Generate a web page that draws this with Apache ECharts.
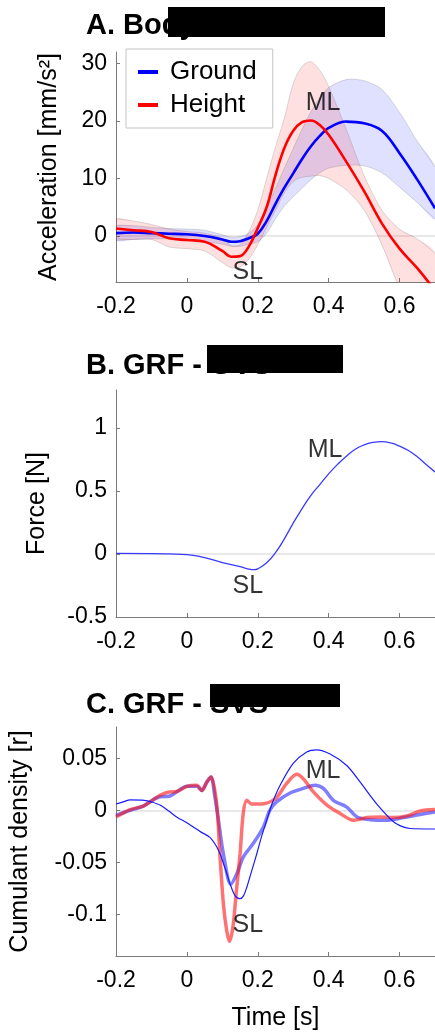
<!DOCTYPE html>
<html><head><meta charset="utf-8">
<script src="https://cdn.jsdelivr.net/npm/echarts@6/dist/echarts.min.js"></script>
<style>html,body{margin:0;padding:0;background:#fff}#c{width:435px;height:1033px}</style>
</head><body><div id="c"></div>
<script>
// ---------- Panel A: Body CoM - GVS ----------
const tA = [-0.2,-0.15,-0.1,-0.05,0,0.05,0.1,0.125,0.15,0.175,0.2,0.225,0.25,0.275,0.3,0.325,0.35,0.375,0.4,0.45,0.5,0.55,0.6,0.65,0.7];
const groundMean  = [0.5,0.6,0.5,0.4,0.3,0.0,-0.6,-1.0,-0.9,-0.4,0.4,2.6,5.6,8.4,10.9,13.4,15.6,17.4,18.8,19.9,19.6,18.3,14.4,9.8,4.8];
const groundUpper = [1.8,1.8,1.5,1.3,1.2,1.0,0.2,-0.2,-0.1,0.5,2.0,4.8,8.3,11.8,15.2,18.6,21.6,24.0,25.8,27.2,27.0,25.5,21.5,16.5,12.0];
const groundLower = [-0.8,-0.6,-0.5,-0.5,-0.6,-1.0,-1.4,-1.8,-1.8,-1.4,-1.0,0.5,3.0,5.2,6.8,8.3,9.8,11.0,11.8,12.3,12.2,11.0,8.5,5.8,3.0];
const heightMean  = [1.3,1.0,0.7,-0.4,-0.7,-1.0,-2.6,-3.6,-3.5,-1.8,1.4,5.0,10.6,15.3,18.3,19.8,20.1,19.3,17.6,12.9,7.8,2.2,-2.2,-5.6,-9.5];
const heightUpper = [3.0,2.6,2.0,1.2,0.8,0.5,-0.4,-1.7,-1.5,0.8,4.5,10.0,15.5,20.5,26.5,29.5,30.3,28.8,26.0,18.5,10.5,4.5,1.2,-0.5,-3.0];
const heightLower = [-0.5,-0.6,-0.6,-1.9,-2.2,-2.6,-4.6,-5.5,-5.4,-4.0,-1.5,1.5,4.5,7.5,9.5,10.2,10.4,10.5,10.0,8.0,4.5,-1.5,-9.0,-14.0,-20.0];
const labelsA = [{name:'ML', t:0.384, v:23.1},{name:'SL', t:0.172, v:-6.3}];
const yTicksA = [0,10,20,30];

// ---------- Panel B: GRF - GVS ----------
const tB = [-0.2,-0.1,-0.05,0,0.05,0.1,0.15,0.175,0.19,0.2,0.225,0.25,0.275,0.3,0.325,0.35,0.375,0.4,0.425,0.45,0.475,0.5,0.525,0.55,0.575,0.6,0.625,0.65,0.675,0.7];
const forceB = [0.005,0.003,0.0,-0.005,-0.03,-0.068,-0.1,-0.12,-0.125,-0.118,-0.07,0.01,0.12,0.245,0.36,0.465,0.55,0.635,0.71,0.775,0.83,0.865,0.885,0.89,0.88,0.855,0.82,0.77,0.71,0.65];
const labelsB = [{name:'ML', t:0.39, v:0.82},{name:'SL', t:0.172, v:-0.256}];
const yTicksB = [-0.5,0,0.5,1];

// ---------- Panel C: GRF - SVS ----------
const tCthin = [-0.2,-0.18,-0.16,-0.12,-0.1,-0.076,-0.05,-0.029,0,0.018,0.04,0.065,0.084,0.095,0.103,0.112,0.121,0.136,0.15,0.16,0.169,0.183,0.197,0.21,0.225,0.24,0.263,0.3,0.338,0.366,0.404,0.451,0.489,0.536,0.583,0.61,0.63,0.7];
const vCthin = [0.006,0.008,0.010,0.0096,0.008,0.005,-0.001,-0.0064,-0.012,-0.016,-0.021,-0.026,-0.035,-0.043,-0.051,-0.06,-0.070,-0.082,-0.085,-0.082,-0.074,-0.058,-0.042,-0.026,-0.01,0.006,0.024,0.045,0.056,0.058,0.054,0.043,0.027,0.006,-0.011,-0.016,-0.0175,-0.018];
const tCblue = [-0.2,-0.16,-0.123,-0.1,-0.076,-0.05,-0.029,0,0.028,0.042,0.056,0.068,0.079,0.089,0.103,0.124,0.141,0.159,0.187,0.216,0.234,0.253,0.291,0.329,0.361,0.385,0.413,0.451,0.48,0.517,0.564,0.611,0.658,0.7];
const vCblue = [-0.005,0.0,0.004,0.009,0.013,0.0135,0.0176,0.023,0.023,0.019,0.027,0.032,0.013,-0.0096,-0.042,-0.071,-0.061,-0.045,-0.032,-0.016,0.0,0.008,0.0166,0.021,0.024,0.021,0.0096,0.003,-0.0064,-0.009,-0.0096,-0.007,-0.004,-0.0016];
const tCred = [-0.2,-0.16,-0.123,-0.1,-0.076,-0.05,-0.029,0,0.028,0.042,0.056,0.068,0.084,0.093,0.103,0.112,0.12,0.13,0.139,0.15,0.159,0.169,0.183,0.206,0.249,0.282,0.31,0.329,0.357,0.395,0.432,0.47,0.508,0.545,0.583,0.62,0.658,0.7];
const vCred = [-0.0064,0.0007,0.004,0.009,0.0144,0.0176,0.018,0.023,0.024,0.019,0.027,0.032,0.006,-0.042,-0.09,-0.115,-0.126,-0.112,-0.08,-0.042,-0.003,0.0096,0.006,0.006,0.011,0.026,0.0345,0.030,0.0176,0.005,-0.003,-0.0096,-0.007,-0.0064,-0.007,-0.0055,-0.0007,0.0007];
const labelsC = [{name:'ML', t:0.384, v:0.038},{name:'SL', t:0.172, v:-0.110}];
const yTicksC = [-0.1,-0.05,0,0.05];

const xTicks = [-0.2,0,0.2,0.4,0.6];
const titles = ['A. Body CoM - GVS','B. GRF - GVS','C. GRF - SVS'];
const yNames = ['Acceleration [mm/s\u00B2]','Force [N]','Cumulant density [r]'];
const xName = 'Time [s]';

// ---------- build ----------
const FONT = '"Liberation Sans", Arial, Helvetica, sans-serif';
const AX = '#7a7a7a';
const pairs = (t, v) => t.map((x, i) => [x, v[i]]);

const grids = [
  {left:116, top:52, width:319, height:230},
  {left:116, top:390, width:319, height:227},
  {left:116, top:727, width:319, height:229}
];
const yRanges = [[-8,32],[-0.5,1.3],[-0.14,0.08]];
const yTicks = [yTicksA, yTicksB, yTicksC];
const nameGaps = [54, 66, 83];

const xAxes = grids.map((g, i) => ({
  type:'value', gridIndex:i, min:-0.2, max:0.7,
  axisLine:{show:true, onZero:false, lineStyle:{color:AX, width:1}},
  axisTick:{show:true, inside:true, length:4, customValues:xTicks, lineStyle:{color:AX}},
  axisLabel:{customValues:xTicks, fontSize:23, fontFamily:FONT, color:'#000', margin:13,
    formatter:v => String(Math.round(v*10)/10)},
  splitLine:{show:false},
  name: i === 2 ? xName : '', nameLocation:'middle', nameGap:50,
  nameTextStyle:{fontSize:25, fontFamily:FONT, color:'#000'}
}));
const yAxes = grids.map((g, i) => ({
  type:'value', gridIndex:i, min:yRanges[i][0], max:yRanges[i][1],
  axisLine:{show:true, onZero:false, lineStyle:{color:AX, width:1}},
  axisTick:{show:true, inside:true, length:4, customValues:yTicks[i], lineStyle:{color:AX}},
  axisLabel:{customValues:yTicks[i], fontSize:23, fontFamily:FONT, color:'#000', margin:9,
    formatter:v => String(Math.round(v*1000)/1000)},
  splitLine:{show:false},
  name:yNames[i], nameLocation:'middle', nameRotate:90, nameGap:nameGaps[i],
  nameTextStyle:{fontSize:25, fontFamily:FONT, color:'#000'}
}));

const series = [];
// zero lines
for (let i = 0; i < 3; i++) {
  series.push({type:'line', xAxisIndex:i, yAxisIndex:i, data:[], silent:true, z:0,
    markLine:{silent:true, symbol:'none', label:{show:false}, z:0,
      lineStyle:{color:'#e2e2e2', width:1.5, type:'solid'}, data:[{yAxis:0}]}});
}
// shaded bands: polygon through upper edge then back along lower edge
function band(lo, hi, fill) {
  const rows = tA.map((t, i) => [t, lo[i], hi[i]]);
  series.push({type:'custom', xAxisIndex:0, yAxisIndex:0, data:rows, clip:true, silent:true, z:1,
    encode:{x:0, y:[1,2]},
    renderItem:(params, api) => {
      if (params.dataIndex !== 0) return null;
      const up = rows.map(r => api.coord([r[0], r[2]]));
      const dn = rows.map(r => api.coord([r[0], r[1]])).reverse();
      return {type:'group', children:[
        {type:'polygon', shape:{points:up.concat(dn), smooth:0.3},
          style:{fill:fill, stroke:null}},
        {type:'polyline', shape:{points:up, smooth:0.3},
          style:{fill:null, stroke:'rgba(80,80,80,0.2)', lineWidth:1}},
        {type:'polyline', shape:{points:dn, smooth:0.3},
          style:{fill:null, stroke:'rgba(80,80,80,0.2)', lineWidth:1}}
      ]};
    }});
}
band(groundLower, groundUpper, 'rgba(0,0,255,0.12)');
band(heightLower, heightUpper, 'rgba(255,0,0,0.12)');
series.push({name:'Ground', type:'line', xAxisIndex:0, yAxisIndex:0, data:pairs(tA, groundMean), smooth:0.4,
  symbol:'none', lineStyle:{color:'#0000ff', width:2.6}, itemStyle:{color:'#0000ff'}, z:3});
series.push({name:'Height', type:'line', xAxisIndex:0, yAxisIndex:0, data:pairs(tA, heightMean), smooth:0.4,
  symbol:'none', lineStyle:{color:'#ff0000', width:2.6}, itemStyle:{color:'#ff0000'}, z:3});

series.push({name:'GRF GVS', type:'line', xAxisIndex:1, yAxisIndex:1, data:pairs(tB, forceB), smooth:true,
  symbol:'none', lineStyle:{color:'#3a3aff', width:1.3}, z:3});

series.push({name:'SVS ground', type:'line', xAxisIndex:2, yAxisIndex:2, data:pairs(tCblue, vCblue), smooth:0.3,
  symbol:'none', lineStyle:{color:'rgba(40,40,255,0.6)', width:3.5}, z:3});
series.push({name:'SVS height', type:'line', xAxisIndex:2, yAxisIndex:2, data:pairs(tCred, vCred), smooth:0.3,
  symbol:'none', lineStyle:{color:'rgba(255,20,20,0.6)', width:3.5}, z:3});
series.push({name:'SVS thin', type:'line', xAxisIndex:2, yAxisIndex:2, data:pairs(tCthin, vCthin), smooth:0.3,
  symbol:'none', lineStyle:{color:'#1a1aff', width:1.2}, z:4});

// annotations
[labelsA, labelsB, labelsC].forEach((arr, i) => {
  series.push({type:'scatter', xAxisIndex:i, yAxisIndex:i, symbolSize:1, silent:true, z:5,
    itemStyle:{color:'rgba(0,0,0,0)'},
    data:arr.map(d => ({name:d.name, value:[d.t, d.v]})),
    label:{show:true, position:'inside', formatter:'{b}', fontSize:25, fontFamily:FONT, color:'#000'}});
});

const titleTops = [11, 351, 690];
const option = {
  animation:false,
  backgroundColor:'#fff',
  title: titles.map((t, i) => ({text:t, left:86, top:titleTops[i], padding:0,
    textStyle:{fontSize:29, fontWeight:'bold', fontFamily:FONT, color:'#000'}})),
  legend:{data:['Ground','Height'], left:126, top:49, orient:'vertical', icon:'rect',
    itemWidth:20, itemHeight:4, itemGap:7, padding:[10,16,10,12], backgroundColor:'#fff',
    borderColor:'#c4c4c4', borderWidth:1, selectedMode:false,
    textStyle:{fontSize:26, fontFamily:FONT, color:'#000', lineHeight:26, padding:[0,0,0,7]}},
  grid: grids,
  xAxis: xAxes,
  yAxis: yAxes,
  series: series,
  graphic: [
    {type:'rect', shape:{x:168, y:7, width:217, height:30}, style:{fill:'#000'}, z:100},
    {type:'rect', shape:{x:207, y:345, width:136, height:28}, style:{fill:'#000'}, z:100},
    {type:'rect', shape:{x:210, y:684, width:130, height:23}, style:{fill:'#000'}, z:100}
  ]
};
const chart = echarts.init(document.getElementById('c'), null, {renderer:'canvas'});
chart.setOption(option);
</script></body></html>
